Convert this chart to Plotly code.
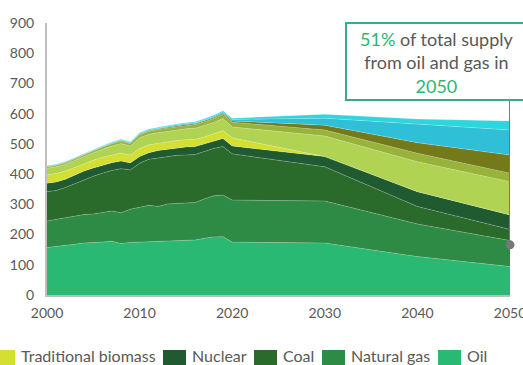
import plotly.graph_objects as go

# ---------------- data ----------------
years = list(range(2000, 2021)) + [2030, 2040, 2050]

oil = [157, 160, 165, 168, 172, 173, 175, 178, 170, 174, 175, 176, 178, 180, 181, 181, 182, 188, 192, 193, 175, 172, 127, 94]
natural_gas = [88, 90, 91, 94, 94, 95, 97, 100, 102, 110, 115, 121, 115, 121, 122, 123, 124, 130, 136, 138, 139, 139, 108, 86]
coal = [97, 96, 100, 106, 116, 125, 131, 134, 146, 130, 146, 152, 160, 156, 159, 159, 159, 157, 157, 160, 153, 113, 58, 37]
nuclear = [28, 28, 27, 28, 28, 27, 27, 26, 25, 23, 22, 22, 25, 25, 25, 27, 26, 25, 25, 27, 26, 34, 49, 48]
traditional_biomass = [27, 28, 27, 26, 26, 26, 26, 26, 27, 26, 27, 26, 24, 24, 24, 24, 24, 23, 23, 26, 27, 0, 0, 0]
modern_bioenergy = [22, 22, 23, 24, 24, 25, 26, 29, 31, 30, 35, 35, 35, 35, 36, 36, 37, 38, 38, 40, 36, 68, 99, 110]
hydro = [5, 5, 5, 5, 6, 6, 7, 8, 8, 8, 10, 10, 11, 11, 11, 11, 12, 12, 13, 14, 16, 20, 28, 28]
wind = [1, 1, 1, 1, 1, 1, 1, 1, 2, 2, 2, 2, 2, 3, 3, 3, 3, 3, 3, 4, 4, 16, 35, 60]
solar = [1, 1, 1, 1, 1, 2, 2, 2, 2, 2, 2, 2, 2, 2, 2, 3, 3, 3, 4, 4, 5, 23, 61, 83]
other_renewables = [2, 2, 2, 2, 2, 2, 2, 2, 2, 2, 3, 3, 3, 3, 3, 3, 3, 4, 4, 4, 4, 13, 17, 30]

series_names = ["Oil", "Natural gas", "Coal", "Nuclear", "Traditional biomass",
                "Modern bioenergy", "Hydro", "Wind", "Solar", "Other renewables"]
series_values = [oil, natural_gas, coal, nuclear, traditional_biomass,
                 modern_bioenergy, hydro, wind, solar, other_renewables]
series_colors = ["#29b972", "#2e8b46", "#2a6a2a", "#205a31", "#d3df33",
                 "#b1d353", "#98b33a", "#747a19", "#2fbfd6", "#2cd6dc"]

x_ticks = [2000, 2010, 2020, 2030, 2040, 2050]
y_ticks = [0, 100, 200, 300, 400, 500, 600, 700, 800, 900]

legend_labels = ["Traditional biomass", "Nuclear", "Coal", "Natural gas", "Oil"]
legend_colors = ["#d3df33", "#205a31", "#2a6a2a", "#2e8b46", "#29b972"]
legend_left_px = [-8, 163, 254, 322, 438]

callout_year = 2050
callout_value = 166
callout_top_value = 645

# ---------------- figure ----------------
W, H = 523, 365
ML, MR, MT, MB = 47, 13, 23, 70
PW, PH = W - ML - MR, H - MT - MB

fig = go.Figure()
for name, vals, col in zip(series_names, series_values, series_colors):
    fig.add_trace(go.Scatter(
        x=years, y=vals, name=name, stackgroup="one", mode="lines",
        line=dict(width=0.6, color="rgba(255,255,255,0.35)"),
        fillcolor=col, showlegend=False, hoverinfo="skip"))

# callout line + dot
fig.add_trace(go.Scatter(x=[callout_year, callout_year], y=[callout_value, callout_top_value],
                         mode="lines", line=dict(color="#777777", width=2),
                         showlegend=False, hoverinfo="skip", cliponaxis=False))
fig.add_trace(go.Scatter(x=[callout_year], y=[callout_value], mode="markers",
                         marker=dict(color="#777777", size=9),
                         showlegend=False, hoverinfo="skip", cliponaxis=False))

def px_x(p):
    return (p - ML) / PW

def px_y(p):
    return (MT + PH - p) / PH

shapes = []
annotations = []
for lab, col, lx in zip(legend_labels, legend_colors, legend_left_px):
    shapes.append(dict(type="rect", xref="paper", yref="paper",
                       x0=px_x(lx), x1=px_x(lx + 23), y0=px_y(370), y1=px_y(350),
                       fillcolor=col, line=dict(width=0)))
    annotations.append(dict(xref="paper", yref="paper", x=px_x(lx + 27), y=px_y(355),
                            xanchor="left", yanchor="middle", showarrow=False,
                            text=lab, font=dict(size=16, color="#595959")))

# callout box (extends past the right edge like the reference)
shapes.append(dict(type="rect", xref="paper", yref="paper",
                   x0=px_x(346), x1=px_x(532), y0=px_y(100), y1=px_y(23),
                   fillcolor="white", line=dict(color="#3aaa8a", width=2), layer="above"))
annotations.append(dict(
    xref="paper", yref="paper", x=px_x(436), y=px_y(62), xanchor="center", yanchor="middle",
    showarrow=False, align="center",
    text='<span style="color:#2bb673">51%</span> of total supply<br>from oil and gas in<br>'
         '<span style="color:#2bb673">2050</span>',
    font=dict(size=18, color="#595959")))

fig.update_layout(
    width=W, height=H,
    margin=dict(l=ML, r=MR, t=MT, b=MB, autoexpand=False),
    paper_bgcolor="white", plot_bgcolor="white",
    font=dict(family="Lato", color="#595959", size=14),
    showlegend=False,
    shapes=shapes, annotations=annotations,
    xaxis=dict(range=[2000, 2050], tickvals=x_ticks, showgrid=False, zeroline=False,
               showline=True, linecolor="#bfbfbf", linewidth=2, ticks="",
               tickfont=dict(size=14, color="#595959"), ticklabelstandoff=4,
               ticklabeloverflow="allow", automargin=False),
    yaxis=dict(range=[0, 900], tickvals=y_ticks, showgrid=False, zeroline=False,
               showline=True, linecolor="#bfbfbf", linewidth=2, ticks="",
               tickfont=dict(size=14, color="#595959"), ticklabelstandoff=8,
               automargin=False),
)

fig.write_html("out.html")
